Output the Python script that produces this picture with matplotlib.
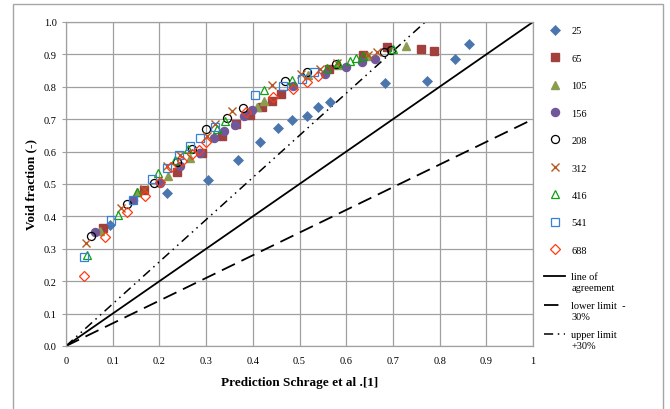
import matplotlib
matplotlib.use("Agg")
import numpy as np
import matplotlib.pyplot as plt
from matplotlib.patches import Rectangle
from matplotlib.legend_handler import HandlerLine2D

plt.rcParams['font.family'] = ['Liberation Serif', 'DejaVu Serif']

labels = ['25', '65', '105', '156', '208', '312', '416', '541', '688']
line_labels = ['line of\nagreement', 'lower limit  -\n30%', 'upper limit\n+30%']

x25 = [0.094, 0.216, 0.303, 0.368, 0.415, 0.455, 0.485, 0.515, 0.540, 0.565, 0.683, 0.772, 0.834, 0.864]
y25 = [0.373, 0.471, 0.513, 0.575, 0.630, 0.672, 0.697, 0.709, 0.737, 0.753, 0.812, 0.818, 0.885, 0.932]

x65 = [0.080, 0.168, 0.238, 0.292, 0.333, 0.365, 0.395, 0.420, 0.441, 0.461, 0.563, 0.635, 0.687, 0.760, 0.789]
y65 = [0.365, 0.482, 0.536, 0.595, 0.647, 0.686, 0.712, 0.738, 0.757, 0.779, 0.856, 0.898, 0.922, 0.917, 0.909]

x105 = [0.073, 0.152, 0.218, 0.266, 0.408, 0.423, 0.519, 0.583, 0.647, 0.728]
y105 = [0.356, 0.474, 0.526, 0.579, 0.737, 0.755, 0.835, 0.866, 0.896, 0.925]

x156 = [0.063, 0.143, 0.202, 0.245, 0.286, 0.316, 0.339, 0.362, 0.382, 0.399, 0.487, 0.555, 0.599, 0.633, 0.662]
y156 = [0.353, 0.451, 0.502, 0.556, 0.597, 0.641, 0.665, 0.683, 0.709, 0.729, 0.804, 0.841, 0.862, 0.878, 0.886]

x208 = [0.054, 0.130, 0.189, 0.237, 0.270, 0.300, 0.344, 0.380, 0.470, 0.515, 0.578, 0.680, 0.697]
y208 = [0.339, 0.437, 0.503, 0.567, 0.608, 0.671, 0.703, 0.736, 0.817, 0.847, 0.870, 0.906, 0.913]

x312 = [0.043, 0.118, 0.166, 0.216, 0.244, 0.301, 0.320, 0.356, 0.442, 0.503, 0.544, 0.581, 0.647, 0.667]
y312 = [0.318, 0.426, 0.486, 0.555, 0.590, 0.647, 0.686, 0.725, 0.806, 0.840, 0.855, 0.873, 0.899, 0.906]

x416 = [0.044, 0.111, 0.153, 0.198, 0.233, 0.262, 0.323, 0.340, 0.424, 0.484, 0.558, 0.582, 0.608, 0.622, 0.637, 0.701]
y416 = [0.281, 0.404, 0.476, 0.533, 0.575, 0.608, 0.670, 0.693, 0.789, 0.822, 0.857, 0.873, 0.880, 0.888, 0.894, 0.917]

x541 = [0.039, 0.096, 0.144, 0.184, 0.216, 0.243, 0.266, 0.286, 0.320, 0.405, 0.464, 0.506, 0.532]
y541 = [0.276, 0.390, 0.451, 0.515, 0.548, 0.590, 0.616, 0.641, 0.675, 0.775, 0.803, 0.824, 0.845]

x688 = [0.039, 0.083, 0.131, 0.169, 0.202, 0.224, 0.248, 0.269, 0.285, 0.300, 0.385, 0.444, 0.487, 0.516, 0.540]
y688 = [0.216, 0.336, 0.414, 0.462, 0.505, 0.553, 0.570, 0.593, 0.606, 0.629, 0.723, 0.770, 0.793, 0.814, 0.832]

line_x = [0.0, 1.0]
agree_y = [0.0, 1.0]
lower_y = [0.0, 0.7]
upper_x = [0.0, 1.0 / 1.3]
upper_y = [0.0, 1.0]

x_ticks = [0, 0.1, 0.2, 0.3, 0.4, 0.5, 0.6, 0.7, 0.8, 0.9, 1]
x_ticklabels = ['0', '0.1', '0.2', '0.3', '0.4', '0.5', '0.6', '0.7', '0.8', '0.9', '1']
y_ticks = [0.0, 0.1, 0.2, 0.3, 0.4, 0.5, 0.6, 0.7, 0.8, 0.9, 1.0]
y_ticklabels = ['0.0', '0.1', '0.2', '0.3', '0.4', '0.5', '0.6', '0.7', '0.8', '0.9', '1.0']


class TopLineHandler(HandlerLine2D):
    """Place the legend line level with the first text line."""
    def __init__(self, shift, **kw):
        super().__init__(**kw)
        self.shift = shift

    def create_artists(self, legend, orig_handle, xdescent, ydescent, width,
                       height, fontsize, trans):
        arts = super().create_artists(legend, orig_handle, xdescent, ydescent,
                                      width, height, fontsize, trans)
        for a in arts:
            a.set_ydata(np.asarray(a.get_ydata()) + self.shift)
        return arts


fig = plt.figure(figsize=(6.7, 4.1), dpi=100)
ax = fig.add_axes([66/670, 1-347/410, (533-66)/670, (347-23)/410])

# outer chart border
fig.patches.append(Rectangle((13/670, -0.05), (663-13)/670, 1.05 - 5/410,
                             transform=fig.transFigure, fill=False,
                             edgecolor='#a6a6a6', linewidth=1.0))

ms = 5.3
series = [
    (x25, y25, dict(marker='D', markersize=4.6, markeredgewidth=0.5, markerfacecolor='#4a76ad', markeredgecolor='#4a76ad')),
    (x65, y65, dict(marker='s', markersize=ms, markerfacecolor='#a2403e', markeredgecolor='#a2403e')),
    (x105, y105, dict(marker='^', markersize=ms+0.5, markerfacecolor='#8a9c4e', markeredgecolor='#8a9c4e')),
    (x156, y156, dict(marker='o', markersize=ms+0.5, markerfacecolor='#70579a', markeredgecolor='#70579a')),
    (x208, y208, dict(marker='o', markersize=ms+0.5, markerfacecolor='none', markeredgecolor='black', markeredgewidth=0.9)),
    (x312, y312, dict(marker='x', markersize=ms, markeredgecolor='#b8571f', markeredgewidth=1.0)),
    (x416, y416, dict(marker='^', markersize=ms+0.5, markerfacecolor='none', markeredgecolor='#10a010', markeredgewidth=0.9)),
    (x541, y541, dict(marker='s', markersize=ms+0.5, markerfacecolor='none', markeredgecolor='#3580d8', markeredgewidth=0.9)),
    (x688, y688, dict(marker='D', markersize=ms-0.7, markerfacecolor='none', markeredgecolor='#ff3a10', markeredgewidth=0.9)),
]
marker_handles = []
for (xs, ys, kw), lab in zip(series, labels):
    h, = ax.plot(xs, ys, linestyle='none', label=lab, zorder=3, **kw)
    marker_handles.append(h)

l1, = ax.plot(line_x, agree_y, color='black', linewidth=1.3, zorder=2)
l2, = ax.plot(line_x, lower_y, color='black', linewidth=1.3, dashes=(8, 4), zorder=2)
l3, = ax.plot(upper_x, upper_y, color='black', linewidth=1.1, dashes=(6, 3, 1, 3, 1, 3), zorder=2)

ax.set_xlim(0, 1)
ax.set_ylim(0, 1)
ax.set_xticks(x_ticks)
ax.set_xticklabels(x_ticklabels)
ax.set_yticks(y_ticks)
ax.set_yticklabels(y_ticklabels)
ax.grid(True, color='#a0a0a0', linewidth=0.9)
ax.set_axisbelow(True)
for s in ax.spines.values():
    s.set_color('#a0a0a0')
    s.set_linewidth(0.9)
ax.tick_params(axis='both', labelsize=7.5, colors='#a0a0a0', labelcolor='black', length=3)
ax.tick_params(axis='x', length=0, pad=7)

ax.set_xlabel('Prediction Schrage et al .[1]', fontsize=9.5, fontweight='bold', labelpad=8)
ax.set_ylabel('Void fraction (-)', fontsize=9.5, fontweight='bold', labelpad=5)

leg1 = fig.legend(handles=marker_handles, labels=labels, loc='upper left',
                  bbox_to_anchor=(540/670, 1 - 23/410), frameon=False,
                  fontsize=7.5, numpoints=1, handlelength=2.0, handletextpad=0.6,
                  labelspacing=1.74, borderaxespad=0)

fs = 7.5
hm = {h: TopLineHandler(shift=0.55 * fs) for h in (l1, l2, l3)}
leg2 = fig.legend(handles=[l1, l2, l3], labels=line_labels, loc='upper left',
                  bbox_to_anchor=(540/670, 1 - 269/410), frameon=False,
                  fontsize=fs, handlelength=2.0, handletextpad=0.6,
                  labelspacing=0.85, borderaxespad=0, handler_map=hm)
for t in leg2.get_texts():
    t.set_linespacing(1.3)

fig.savefig('out.png', dpi=100)
